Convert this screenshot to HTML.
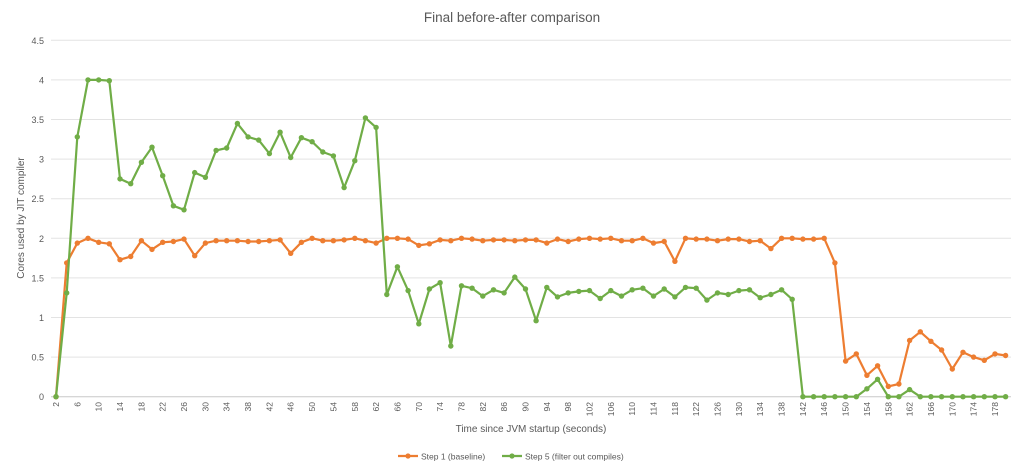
<!DOCTYPE html>
<html><head><meta charset="utf-8"><style>
html,body{margin:0;padding:0;background:#fff}
svg{display:block;font-family:"Liberation Sans",sans-serif}
</style></head><body>
<svg id="c" width="1024" height="472" xmlns="http://www.w3.org/2000/svg">
<rect x="0" y="0" width="1024" height="472" fill="#fff"/>
<text x="512" y="22" text-anchor="middle" font-size="13.5" fill="#595959">Final before-after comparison</text>
<text transform="translate(24,218) rotate(-90)" text-anchor="middle" font-size="10" fill="#595959">Cores used by JIT compiler</text>
<text x="531" y="432" text-anchor="middle" font-size="10" fill="#595959">Time since JVM startup (seconds)</text>
<line x1="398" y1="456" x2="418" y2="456" stroke="#ed7d31" stroke-width="2.2"/><circle cx="408" cy="456" r="2.6" fill="#ed7d31"/>
<text x="421" y="459.5" font-size="8.5" fill="#595959">Step 1 (baseline)</text>
<line x1="502" y1="456" x2="522" y2="456" stroke="#70ad47" stroke-width="2.2"/><circle cx="512" cy="456" r="2.6" fill="#70ad47"/>
<text x="525" y="459.5" font-size="8.5" fill="#595959">Step 5 (filter out compiles)</text>
<g id="g"></g>
</svg>
<script>
var g=document.getElementById('g'),ns='http://www.w3.org/2000/svg',h='';
function X(i){return 56+10.67*i}function Y(v){return 396.7-79.2*v}
for(var k=0;k<=9;k++){var v=k*0.5,y=Y(v);
h+='<line x1="51" x2="1011" y1="'+y+'" y2="'+y+'" stroke="'+(k?'#e3e3e3':'#c8c8c8')+'" stroke-width="1"/>';
h+='<text x="44" y="'+(y+3.5)+'" text-anchor="end" font-size="9" fill="#595959">'+v+'</text>';}
for(var i=0;i<90;i++){var t=2+2*i;if(i%2==0){h+='<text transform="translate('+(X(i)+3)+',402) rotate(-90)" text-anchor="end" font-size="8.5" fill="#595959">'+t+'</text>';}}
var G=[0,1.31,3.28,4.0,4.0,3.99,2.75,2.69,2.96,3.15,2.79,2.41,2.36,2.83,2.77,3.11,3.14,3.45,3.28,3.24,3.07,3.34,3.02,3.27,3.22,3.09,3.04,2.64,2.98,3.52,3.40,
1.29,1.64,1.34,0.92,1.36,1.44,0.64,1.40,1.37,1.27,1.35,1.31,1.51,1.36,0.96,1.38,1.26,1.31,1.33,1.34,1.24,1.34,1.27,1.35,1.37,1.27,1.36,1.26,1.38,1.37,1.22,1.31,1.29,1.34,1.35,1.25,1.29,1.35,1.23,
0,0,0,0,0,0,0.1,0.22,0,0,0.09,0,0,0,0,0,0,0,0,0];
var O=[0,1.69,1.94,2.0,1.95,1.93,1.73,1.77,1.97,1.86,1.95,1.96,1.99,1.78,1.94,1.97,1.97,1.97,1.96,1.96,1.97,1.98,1.81,1.95,2.0,1.97,1.97,1.98,2.0,1.97,1.94,
2.0,2.0,1.99,1.91,1.93,1.98,1.97,2.0,1.99,1.97,1.98,1.98,1.97,1.98,1.98,1.94,1.99,1.96,1.99,2.0,1.99,2.0,1.97,1.97,2.0,1.94,1.96,1.71,2.0,1.99,1.99,1.97,1.99,1.99,1.96,1.97,1.87,2.0,2.0,1.99,
1.99,2.0,1.69,0.45,0.54,0.27,0.39,0.13,0.16,0.71,0.82,0.70,0.59,0.35,0.56,0.50,0.46,0.54,0.52];
function ser(d,c){var p='';for(var i=0;i<d.length;i++)p+=(i?'L':'M')+X(i).toFixed(1)+' '+Y(d[i]).toFixed(1);
var s='<path d="'+p+'" fill="none" stroke="'+c+'" stroke-width="2.2" stroke-linejoin="round"/>';
for(var i=0;i<d.length;i++)s+='<circle cx="'+X(i).toFixed(1)+'" cy="'+Y(d[i]).toFixed(1)+'" r="2.7" fill="'+c+'"/>';return s;}
h+=ser(O,'#ed7d31')+ser(G,'#70ad47');
g.innerHTML=h;
</script>
</body></html>
